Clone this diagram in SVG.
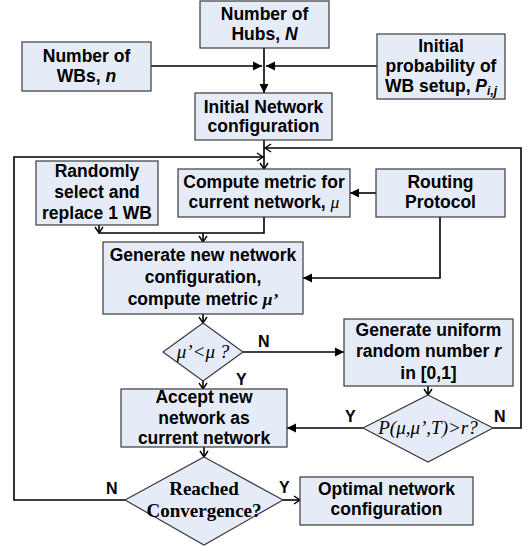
<svg xmlns="http://www.w3.org/2000/svg" width="527" height="548" viewBox="0 0 527 548">
<defs>
<marker id="fa" markerUnits="userSpaceOnUse" markerWidth="10" markerHeight="10" refX="9" refY="4.5" orient="auto" overflow="visible"><path d="M0,0 L9,4.5 L0,9 z" fill="#000"/></marker>
<marker id="oa" markerUnits="userSpaceOnUse" markerWidth="10" markerHeight="10" refX="6" refY="4" orient="auto" overflow="visible"><path d="M0,0 L6,4 L0,8" fill="none" stroke="#000" stroke-width="1.4"/></marker>
</defs>
<style>
.box{fill:#E6ECF7;stroke:#3A3A3A;stroke-width:1.2}
.t{font-family:"Liberation Sans",Arial,sans-serif;font-weight:bold;font-size:17.5px;fill:#000;text-anchor:middle}
.s{font-family:"Liberation Serif","Times New Roman",serif;font-size:19px;fill:#000;text-anchor:middle}
.i{font-style:italic}
.m{font-family:"Liberation Serif","Times New Roman",serif;font-style:italic}
.ln{fill:none;stroke:#000;stroke-width:1.6}
.lb{font-family:"Liberation Sans",Arial,sans-serif;font-weight:bold;font-size:16px;fill:#000}
</style>
<rect width="527" height="548" fill="#fff"/>
<g id="connectors">
<path class="ln" d="M151,66 H262" marker-end="url(#fa)"/>
<path class="ln" d="M377,66 H266" marker-end="url(#fa)"/>
<path class="ln" d="M264,48 V93" marker-end="url(#fa)"/>
<path class="ln" d="M264,140 V169" marker-end="url(#oa)"/>
<path class="ln" d="M493,428 H521 V148 H265" marker-end="url(#oa)"/>
<path class="ln" d="M125,500 H14 V157 H263" marker-end="url(#oa)"/>
<path class="ln" d="M376,193 H350" marker-end="url(#fa)"/>
<path class="ln" d="M440,217 V278 H303" marker-end="url(#fa)"/>
<path class="ln" d="M99,225 V233" marker-end="url(#oa)"/>
<path class="ln" d="M99,233 H264 V217"/>
<path class="ln" d="M203,233 V242" marker-end="url(#oa)"/>
<path class="ln" d="M203,314 V323" marker-end="url(#oa)"/>
<path class="ln" d="M243,352 H344" marker-end="url(#fa)"/>
<path class="ln" d="M428,386 V395" marker-end="url(#oa)"/>
<path class="ln" d="M363,428 H287" marker-end="url(#fa)"/>
<path class="ln" d="M203,381 V389" marker-end="url(#oa)"/>
<path class="ln" d="M204,447 V457" marker-end="url(#oa)"/>
<path class="ln" d="M283,500 H300" marker-end="url(#oa)"/>
<text class="lb" x="258" y="347">N</text>
<text class="lb" x="236" y="385">Y</text>
<text class="lb" x="345" y="422">Y</text>
<text class="lb" x="494" y="422">N</text>
<text class="lb" x="106" y="494">N</text>
<text class="lb" x="279" y="493">Y</text>
</g>
<g id="hubs"><rect class="box" x="200" y="1" width="129" height="47"/><text class="t" x="264.5" y="20">Number of</text><text class="t" x="264.5" y="40">Hubs, <tspan class="i">N</tspan></text></g>
<g id="wbs"><rect class="box" x="22" y="42" width="129" height="49"/><text class="t" x="86.5" y="62">Number of</text><text class="t" x="86.5" y="82">WBs, <tspan class="i">n</tspan></text></g>
<g id="initprob"><rect class="box" x="377" y="34" width="128" height="65"/><text class="t" x="441" y="52">Initial</text><text class="t" x="441" y="72">probability of</text><text class="t" x="441" y="92">WB setup, <tspan class="i">P<tspan font-size="12" dy="3">i,j</tspan></tspan></text></g>
<g id="initnet"><rect class="box" x="195" y="93" width="137" height="47"/><text class="t" x="263.5" y="113">Initial Network</text><text class="t" x="263.5" y="132">configuration</text></g>
<g id="randomly"><rect class="box" x="36" y="161" width="122" height="64"/><text class="t" x="97" y="177">Randomly</text><text class="t" x="97" y="198">select and</text><text class="t" x="97" y="219">replace 1 WB</text></g>
<g id="compute"><rect class="box" x="178" y="169" width="172" height="48"/><text class="t" x="264" y="188">Compute metric for</text><text class="t" x="264" y="208">current network, <tspan class="m" font-weight="normal">μ</tspan></text></g>
<g id="routing"><rect class="box" x="376" y="169" width="129" height="48"/><text class="t" x="440.5" y="188">Routing</text><text class="t" x="440.5" y="208">Protocol</text></g>
<g id="generate"><rect class="box" x="103" y="242" width="200" height="72"/><text class="t" x="203" y="261">Generate new network</text><text class="t" x="203" y="283">configuration,</text><text class="t" x="203" y="305">compute metric <tspan class="m">μ’</tspan></text></g>
<g id="cmp"><polygon class="box" points="203,323 243,352 203,381 163,352"/><text class="s i" x="203" y="358">μ’&lt;μ ?</text></g>
<g id="uniform"><rect class="box" x="344" y="319" width="169" height="67"/><text class="t" x="428.5" y="336">Generate uniform</text><text class="t" x="428.5" y="357">random number <tspan class="i">r</tspan></text><text class="t" x="428.5" y="379">in [0,1]</text></g>
<g id="prob"><polygon class="box" points="428,395 493,428 428,462 363,428"/><text class="s i" x="428" y="434">P(μ,μ’,T)&gt;r?</text></g>
<g id="accept"><rect class="box" x="121" y="389" width="166" height="58"/><text class="t" x="204" y="403">Accept new</text><text class="t" x="204" y="424">network as</text><text class="t" x="204" y="444">current network</text></g>
<g id="converge"><polygon class="box" points="204,457 283,500 204,545 125,500"/><text class="s" font-weight="bold" x="204" y="495">Reached</text><text class="s" font-weight="bold" x="204" y="517">Convergence?</text></g>
<g id="optimal"><rect class="box" x="300" y="477" width="173" height="48"/><text class="t" x="386.5" y="495">Optimal network</text><text class="t" x="386.5" y="515">configuration</text></g>
</svg>
